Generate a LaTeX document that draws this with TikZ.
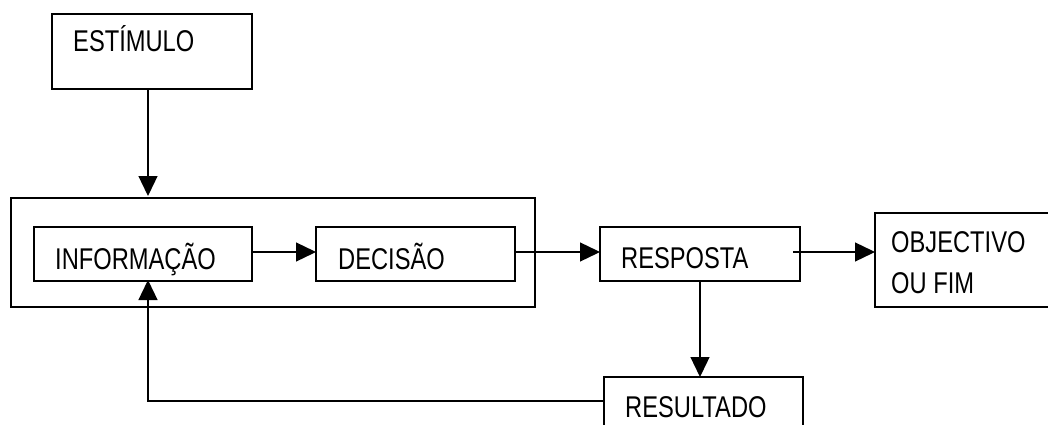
\documentclass[tikz,border=0pt]{standalone}
\usepackage{fontspec}
\setmainfont{Liberation Sans}[FakeStretch=0.79]
\usetikzlibrary{arrows.meta}
\begin{document}
\begin{tikzpicture}[x=1pt,y=-1pt,
  box/.style={draw,line width=1.3pt,inner sep=0pt,outer sep=0pt},
  lbl/.style={anchor=base west,inner sep=0pt,font=\fontsize{30}{41}\selectfont},
  conn/.style={line width=1.3pt},
  arr/.style={conn,-{Triangle[length=20pt,width=19pt]}}]
\useasboundingbox (0,0) rectangle (1048,425);
\begin{scope}
\clip (0,0) rectangle (1048,425);
% boxes
\node[box,minimum width=200pt,minimum height=75pt] (est) at (152,51.5) {};
\node[box,minimum width=524pt,minimum height=109pt] (outer) at (273,252.5) {};
\node[box,minimum width=218pt,minimum height=54pt] (info) at (143,254) {};
\node[box,minimum width=199pt,minimum height=54pt] (dec) at (415.5,254) {};
\node[box,minimum width=200pt,minimum height=54pt] (resp) at (700,254) {};
\node[box,minimum width=185pt,minimum height=94pt] (obj) at (967.5,260) {};
\node[box,minimum width=199pt,minimum height=50pt] (res) at (703.5,402) {};
\coordinate (fx) at (148,0);
% labels
\node[lbl] (t1) at (73,52) {ESTÍMULO};
\node[lbl] (t2) at (55,269) {INFORMAÇÃO};
\node[lbl] (t3) at (338,269) {DECISÃO};
\node[lbl] (t4) at (621,268) {RESPOSTA};
\node[lbl,align=left] (t5) at (891,293) {OBJECTIVO\\OU FIM};
\node[lbl] (t6) at (625,417) {RESULTADO};
% connectors
\draw[arr] (est.south -| fx) -- ([yshift=2pt]outer.north -| fx);
\draw[arr] (info.east |- 0,252) -- (dec.west |- 0,252);
\draw[arr] (dec.east |- 0,252) -- (resp.west |- 0,252);
\draw[arr] ([xshift=-7pt]resp.east |- 0,252) -- (obj.west |- 0,252);
\draw[arr] (resp.south) -- (resp.south |- res.north);
\draw[arr] (res.west |- 0,401) -- (fx |- 0,401) -- ([yshift=1pt]info.south -| fx);
\end{scope}
\end{tikzpicture}
\end{document}
